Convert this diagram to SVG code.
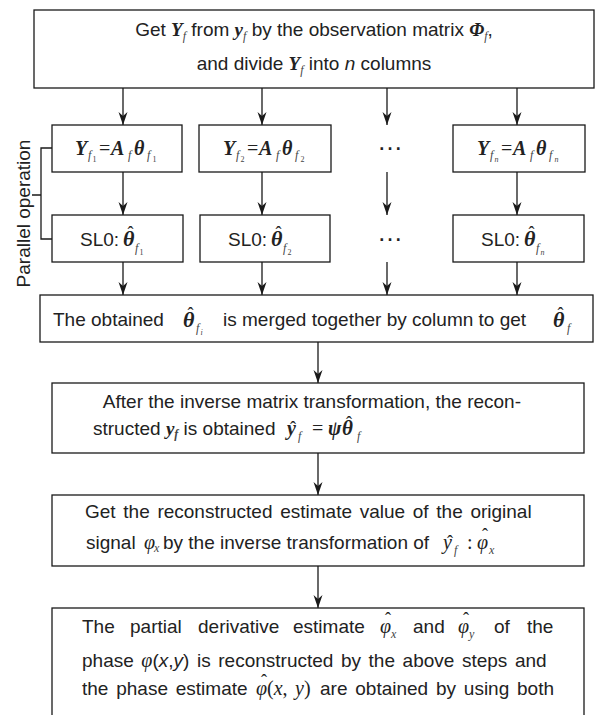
<svg xmlns="http://www.w3.org/2000/svg" width="595" height="715" viewBox="0 0 595 715">
<defs>
<marker id="ah" markerUnits="userSpaceOnUse" markerWidth="14" markerHeight="10" refX="13" refY="4.5" orient="auto">
<path d="M0,0 L13,4.5 L0,9 L4,4.5 Z" fill="#1a1a1a"/>
</marker>
<style>
.box{fill:#fff;stroke:#1a1a1a;stroke-width:1.3}
.ln{stroke:#1a1a1a;stroke-width:1.3;fill:none}
.ar{marker-end:url(#ah)}
.t{font-family:"Liberation Sans",Arial,sans-serif;font-size:19px;fill:#222}
.m{font-family:"Liberation Serif","Times New Roman",serif;fill:#222}
.bi{font-weight:bold;font-style:italic}
.i{font-style:italic}
.s{font-family:"Liberation Serif","Times New Roman",serif;font-size:12px;font-style:italic;fill:#444}
.ss{font-family:"Liberation Serif","Times New Roman",serif;font-size:8px;fill:#444}
.hat{font-family:"Liberation Serif","Times New Roman",serif;font-size:18px;font-style:normal;font-weight:normal;fill:#222;text-anchor:middle}
.dots{font-family:"Liberation Sans",Arial,sans-serif;font-size:26px;fill:#222;text-anchor:middle}
</style>
</defs>
<rect width="595" height="715" fill="#fff"/>

<g id="connectors">
<line class="ln ar" x1="123" y1="88" x2="123" y2="125"/>
<line class="ln ar" x1="262" y1="88" x2="262" y2="125"/>
<line class="ln ar" x1="387" y1="88" x2="387" y2="125"/>
<line class="ln ar" x1="517" y1="88" x2="517" y2="125"/>
<line class="ln ar" x1="123" y1="172" x2="123" y2="215"/>
<line class="ln ar" x1="262" y1="172" x2="262" y2="215"/>
<line class="ln ar" x1="387" y1="172" x2="387" y2="215"/>
<line class="ln ar" x1="517" y1="172" x2="517" y2="215"/>
<line class="ln ar" x1="123" y1="262" x2="123" y2="295"/>
<line class="ln ar" x1="262" y1="262" x2="262" y2="295"/>
<line class="ln ar" x1="387" y1="262" x2="387" y2="295"/>
<line class="ln ar" x1="517" y1="262" x2="517" y2="295"/>
<line class="ln ar" x1="318" y1="342" x2="318" y2="383"/>
<line class="ln ar" x1="318" y1="453" x2="318" y2="495"/>
<line class="ln ar" x1="318" y1="566" x2="318" y2="608"/>
</g>

<g id="parallel-bracket">
<path class="ln" d="M52,148 H41 V239 H52 M32,195 H41"/>
<text class="t" font-size="19.5" text-anchor="middle" transform="translate(29.5,213.5) rotate(-90)">Parallel operation</text>
</g>

<g id="top">
<rect class="box" x="34" y="10" width="560" height="78"/>
<text class="t" x="314" y="36" text-anchor="middle">Get <tspan class="m bi">Y</tspan><tspan class="s" dy="4">f</tspan><tspan dy="-4"> from </tspan><tspan class="m bi">y</tspan><tspan class="s" dy="4">f</tspan><tspan dy="-4"> by the observation matrix </tspan><tspan class="m bi">Φ</tspan><tspan class="s" dy="4">f</tspan><tspan dy="-4">,</tspan></text>
<text class="t" x="314" y="70" text-anchor="middle">and divide <tspan class="m bi">Y</tspan><tspan class="s" dy="4">f</tspan><tspan dy="-4"> into </tspan><tspan class="i">n</tspan> columns</text>
</g>

<g id="eq1">
<rect class="box" x="52" y="125" width="130" height="47"/>
<text class="m" font-size="20"><tspan class="bi" x="75" y="155">Y</tspan><tspan class="s" x="88" y="159">f</tspan><tspan class="ss" x="92.5" y="162">1</tspan><tspan x="99" y="155">=</tspan><tspan class="bi" x="111" y="155">A</tspan><tspan class="s" x="128" y="159">f</tspan><tspan class="bi" x="134" y="155">θ</tspan><tspan class="s" x="147" y="159">f</tspan><tspan class="ss" x="152.5" y="162">1</tspan></text>
</g>
<g id="eq2">
<rect class="box" x="199" y="125" width="132" height="47"/>
<text class="m" font-size="20"><tspan class="bi" x="223" y="155">Y</tspan><tspan class="s" x="236" y="159">f</tspan><tspan class="ss" x="240.5" y="162">2</tspan><tspan x="247" y="155">=</tspan><tspan class="bi" x="259" y="155">A</tspan><tspan class="s" x="276" y="159">f</tspan><tspan class="bi" x="282" y="155">θ</tspan><tspan class="s" x="295" y="159">f</tspan><tspan class="ss" x="300.5" y="162">2</tspan></text>
</g>
<g id="eq-dots">
<text class="dots" x="390" y="150">…</text>
</g>
<g id="eqn">
<rect class="box" x="453" y="125" width="132" height="47"/>
<text class="m" font-size="20"><tspan class="bi" x="477" y="155">Y</tspan><tspan class="s" x="490" y="159">f</tspan><tspan class="ss i" x="494.5" y="162">n</tspan><tspan x="501" y="155">=</tspan><tspan class="bi" x="513" y="155">A</tspan><tspan class="s" x="530" y="159">f</tspan><tspan class="bi" x="536" y="155">θ</tspan><tspan class="s" x="549" y="159">f</tspan><tspan class="ss i" x="554.5" y="162">n</tspan></text>
</g>

<g id="sl0-1">
<rect class="box" x="52" y="215" width="131" height="47"/>
<text class="t" x="80" y="246">SL0:<tspan class="m bi" x="123" y="246" font-size="22">θ</tspan><tspan class="hat" x="130.5" y="239">ˆ</tspan><tspan class="s" x="135" y="252">f</tspan><tspan class="ss" x="139.5" y="255">1</tspan></text>
</g>
<g id="sl0-2">
<rect class="box" x="200" y="215" width="130" height="47"/>
<text class="t" x="228" y="246">SL0:<tspan class="m bi" x="271" y="246" font-size="22">θ</tspan><tspan class="hat" x="278.5" y="239">ˆ</tspan><tspan class="s" x="283" y="252">f</tspan><tspan class="ss" x="287.5" y="255">2</tspan></text>
</g>
<g id="sl0-dots">
<text class="dots" x="390" y="241">…</text>
</g>
<g id="sl0-n">
<rect class="box" x="453" y="215" width="131" height="47"/>
<text class="t" x="481" y="246">SL0:<tspan class="m bi" x="524" y="246" font-size="22">θ</tspan><tspan class="hat" x="531.5" y="239">ˆ</tspan><tspan class="s" x="536" y="252">f</tspan><tspan class="ss i" x="540.5" y="255">n</tspan></text>
</g>

<g id="merge">
<rect class="box" x="40" y="295" width="553" height="47"/>
<text class="t" x="53" y="326">The obtained<tspan class="m bi" x="183" y="327" font-size="22">θ</tspan><tspan class="hat" x="190.5" y="320">ˆ</tspan><tspan class="s" x="196" y="332">f</tspan><tspan class="ss i" x="200.5" y="335">i</tspan><tspan x="223" y="326">is merged together by column to get</tspan><tspan class="m bi" x="553" y="327" font-size="22">θ</tspan><tspan class="hat" x="560.5" y="320">ˆ</tspan><tspan class="s" x="567" y="332">f</tspan></text>
</g>

<g id="inverse">
<rect class="box" x="52" y="383" width="532" height="70"/>
<text class="t" x="521" y="408" text-anchor="end">After the inverse matrix transformation, the recon-</text>
<text class="t" x="93" y="435">structed <tspan class="m bi">y</tspan><tspan class="s" font-weight="bold" dy="3">f</tspan><tspan dy="-3"> is obtained</tspan><tspan class="m bi" x="287" y="435" font-size="20">y</tspan><tspan class="hat" x="293" y="434">ˆ</tspan><tspan class="s" x="298" y="440">f</tspan><tspan class="m" x="312" y="435" font-size="20">=</tspan><tspan class="m bi" x="328" y="435" font-size="20">ψ</tspan><tspan class="m bi" x="342" y="435" font-size="21">θ</tspan><tspan class="hat" x="349" y="429">ˆ</tspan><tspan class="s" x="357" y="440">f</tspan></text>
</g>

<g id="estimate">
<rect class="box" x="52" y="495" width="532" height="71"/>
<text class="t" x="85" y="518" word-spacing="2.4">Get the reconstructed estimate value of the original</text>
<text class="t" x="86" y="549">signal<tspan class="m i" x="144" y="549" font-size="20">φ</tspan><tspan class="s" x="154" y="552" font-size="10">x</tspan><tspan x="163" y="549">by the inverse transformation of</tspan><tspan class="m i" x="443" y="549" font-size="20">y</tspan><tspan class="hat" x="450" y="548">ˆ</tspan><tspan class="s" x="454" y="554">f</tspan><tspan class="m" x="467" y="549" font-size="20">:</tspan><tspan class="m i" x="477" y="549" font-size="20">φ</tspan><tspan class="hat" x="485" y="541">ˆ</tspan><tspan class="s" x="489" y="554">x</tspan></text>
</g>

<g id="phase">
<rect class="box" x="52" y="608" width="532" height="120"/>
<text class="t" y="633"><tspan x="82">The</tspan><tspan x="130">partial</tspan><tspan x="198">derivative</tspan><tspan x="293">estimate</tspan><tspan class="m i" x="380" y="633" font-size="20">φ</tspan><tspan class="hat" x="388" y="625">ˆ</tspan><tspan class="s" x="391" y="638">x</tspan><tspan x="413" y="633">and</tspan><tspan class="m i" x="458" y="633" font-size="20">φ</tspan><tspan class="hat" x="466" y="625">ˆ</tspan><tspan class="s" x="469" y="638">y</tspan><tspan x="494" y="633">of</tspan><tspan x="527" y="633">the</tspan></text>
<text class="t" x="82" y="667" word-spacing="2.3">phase <tspan class="m i" font-size="20">φ</tspan>(<tspan class="i">x</tspan>,<tspan class="i">y</tspan>) is reconstructed by the above steps and</text>
<text class="t" x="82" y="695" word-spacing="2.5">the phase estimate<tspan class="m i" x="256" y="695" font-size="20">φ</tspan><tspan class="hat" x="264" y="687">ˆ</tspan><tspan class="m" x="267" y="695" font-size="20">(<tspan class="i">x</tspan>, <tspan class="i">y</tspan>)</tspan></text>
<text class="t" x="554" y="695" text-anchor="end" word-spacing="2.5">are obtained by using both</text>
</g>
</svg>
